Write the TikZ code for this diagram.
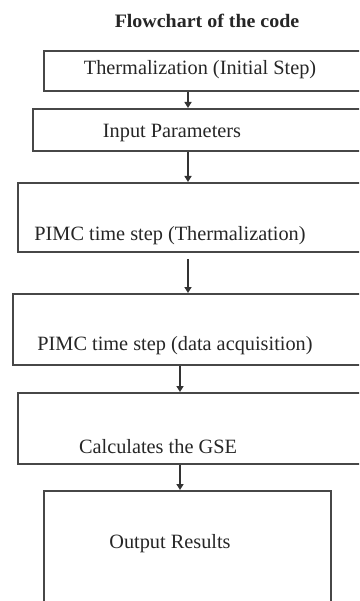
\documentclass[tikz,border=0pt]{standalone}
\usepackage{fontspec}
\setmainfont{Liberation Serif}
\usetikzlibrary{arrows.meta}
\begin{document}
\begin{tikzpicture}[x=1pt,y=1pt,
  box/.style={draw=black!72, line width=2pt, rectangle, anchor=north west, inner sep=0pt},
  lbl/.style={font=\fontsize{20.3}{23}\selectfont, text=black!85, inner sep=0pt},
  arr/.style={draw=black!80, line width=1.6pt, -{Triangle[width=7pt,length=6pt]}}]
\useasboundingbox (0,0) rectangle (359,-601);
\fill[white] (0,0) rectangle (359,-601);
\clip (0,0) rectangle (359,-601);
% title
\node[font=\bfseries\fontsize{19}{22}\selectfont, text=black!85, xscale=1.05, transform shape] (title) at (207,-21) {Flowchart of the code};
% boxes
\node[box, minimum width=330pt, minimum height=40pt] (b1) at (43,-50) {};
\node[box, minimum width=340pt, minimum height=42pt] (b2) at (32,-108) {};
\node[box, minimum width=360pt, minimum height=69pt] (b3) at (17,-182) {};
\node[box, minimum width=360pt, minimum height=71pt] (b4) at (12,-293) {};
\node[box, minimum width=360pt, minimum height=71pt] (b5) at (17,-392) {};
\node[box, minimum width=287pt, minimum height=125pt] (b6) at (43,-490) {};
% labels
\node[lbl] (t1) at (200,-70) {Thermalization (Initial Step)};
\node[lbl] (t2) at (172,-133) {Input Parameters};
\node[lbl] (t3) at (170,-236) {PIMC time step (Thermalization)};
\node[lbl] (t4) at (175,-346) {PIMC time step (data acquisition)};
\node[lbl] (t5) at (158,-447) {Calculates the GSE};
\node[lbl] (t6) at (170,-544) {Output Results};
% arrow columns
\coordinate (c1) at (188,0);
\coordinate (c2) at (180,0);
\draw[arr] (b1.south -| c1) -- (b2.north -| c1);
\draw[arr] (b2.south -| c1) -- (b3.north -| c1);
\draw[arr, shorten <=6pt] (b3.south -| c1) -- (b4.north -| c1);
\draw[arr] (b4.south -| c2) -- (b5.north -| c2);
\draw[arr] (b5.south -| c2) -- (b6.north -| c2);
\end{tikzpicture}
\end{document}
